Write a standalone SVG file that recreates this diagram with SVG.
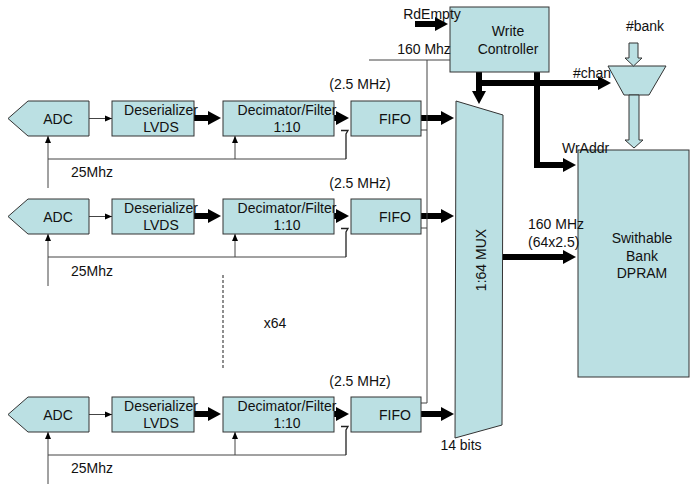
<svg xmlns="http://www.w3.org/2000/svg" width="697" height="495" viewBox="0 0 697 495">
<style>
.box{fill:#bbe0e3;stroke:#333;stroke-width:1}
.t{font-family:"Liberation Sans",Arial,sans-serif;font-size:14px;fill:#111;text-anchor:middle}
.ts{font-family:"Liberation Sans",Arial,sans-serif;font-size:14px;fill:#111}
.thin{fill:none;stroke:#444;stroke-width:1}
.hook{fill:none;stroke:#222;stroke-width:1.3}
.thinA{fill:none;stroke:#444;stroke-width:1;marker-end:url(#sa)}
.thick{fill:none;stroke:#000;stroke-width:6;marker-end:url(#ta);stroke-linejoin:miter}
</style>
<defs>
<marker id="ta" markerUnits="userSpaceOnUse" markerWidth="13" markerHeight="14" refX="5" refY="7" orient="auto"><path d="M0,0 L13,7 L0,14 z" fill="#000"/></marker>
<marker id="sa" markerUnits="userSpaceOnUse" markerWidth="8" markerHeight="8" refX="7" refY="4" orient="auto"><path d="M0,1 L7,4 L0,7 z" fill="#000"/></marker>
</defs>

<g id="connectors">
<!-- row 1 -->
<path class="thinA" d="M89,118.5 H112"/>
<path class="thick" d="M194,118 H213"/>
<path class="thick" d="M334,118 H341"/>
<path class="thick" d="M421,118 H446"/>
<path class="thinA" d="M48,188 V136"/>
<path class="thin" d="M48,159 H346"/>
<path class="thinA" d="M235,159 V136"/>
<path class="hook" d="M346,159 V134 L348,130.5 H341"/>
<path class="thin" d="M421,130 H427"/>
<!-- row 2 -->
<path class="thinA" d="M89,216.5 H112"/>
<path class="thick" d="M194,216 H213"/>
<path class="thick" d="M334,216 H341"/>
<path class="thick" d="M421,216 H446"/>
<path class="thinA" d="M48,286 V234"/>
<path class="thin" d="M48,257 H346"/>
<path class="thinA" d="M235,257 V234"/>
<path class="hook" d="M346,257 V232 L348,228.5 H341"/>
<path class="thin" d="M421,228 H427"/>
<!-- row 3 -->
<path class="thinA" d="M89,414.5 H112"/>
<path class="thick" d="M194,414 H213"/>
<path class="thick" d="M334,414 H341"/>
<path class="thick" d="M421,414 H446"/>
<path class="thinA" d="M48,484 V432"/>
<path class="thin" d="M48,455 H346"/>
<path class="thinA" d="M235,455 V432"/>
<path class="hook" d="M346,455 V430 L348,426.5 H341"/>
<path class="thin" d="M421,403 H427"/>
<!-- 160 MHz clock -->
<path class="thin" d="M369,60 H450 M427,60 V403"/>
<!-- dashed x64 -->
<path d="M223,275 V368" fill="none" stroke="#444" stroke-width="1.2" stroke-dasharray="3,2"/>
<!-- RdEmpty -->
<path class="thick" d="M415,24 H440"/>
<!-- write controller to MUX and chan mux -->
<path class="thick" d="M479,72 V96"/>
<path class="thick" d="M479,83 H603"/>
<!-- WrAddr -->
<path class="thick" d="M537,70 V165 H568"/>
<!-- MUX to DPRAM -->
<path class="thick" d="M502,257 H568"/>
</g>

<g id="row1">
<g id="adc1"><polygon class="box" points="8,118.5 28,101 89,101 89,136 28,136"/><text class="t" x="58" y="123.5">ADC</text></g>
<g id="deser1"><rect class="box" x="112" y="101" width="82" height="35"/><text class="t" x="161" y="115">Deserializer</text><text class="t" x="161" y="132">LVDS</text></g>
<g id="dec1"><rect class="box" x="223" y="101" width="111" height="35"/><text class="t" x="287" y="115">Decimator/Filter</text><text class="t" x="287" y="132">1:10</text></g>
<g id="fifo1"><rect class="box" x="351" y="101" width="70" height="35"/><text class="t" x="395" y="124">FIFO</text></g>
<text class="t" x="360" y="89">(2.5 MHz)</text>
<text class="ts" x="71" y="177">25Mhz</text>
</g>

<g id="row2">
<g id="adc2"><polygon class="box" points="8,216.5 28,199 89,199 89,234 28,234"/><text class="t" x="58" y="221.5">ADC</text></g>
<g id="deser2"><rect class="box" x="112" y="199" width="82" height="35"/><text class="t" x="161" y="213">Deserializer</text><text class="t" x="161" y="230">LVDS</text></g>
<g id="dec2"><rect class="box" x="223" y="199" width="111" height="35"/><text class="t" x="287" y="213">Decimator/Filter</text><text class="t" x="287" y="230">1:10</text></g>
<g id="fifo2"><rect class="box" x="351" y="199" width="70" height="35"/><text class="t" x="395" y="222">FIFO</text></g>
<text class="t" x="360" y="188">(2.5 MHz)</text>
<text class="ts" x="71" y="276">25Mhz</text>
</g>

<g id="row3">
<g id="adc3"><polygon class="box" points="8,414.5 28,397 89,397 89,432 28,432"/><text class="t" x="58" y="419.5">ADC</text></g>
<g id="deser3"><rect class="box" x="112" y="397" width="82" height="35"/><text class="t" x="161" y="411">Deserializer</text><text class="t" x="161" y="428">LVDS</text></g>
<g id="dec3"><rect class="box" x="223" y="397" width="111" height="35"/><text class="t" x="287" y="411">Decimator/Filter</text><text class="t" x="287" y="428">1:10</text></g>
<g id="fifo3"><rect class="box" x="351" y="397" width="70" height="35"/><text class="t" x="395" y="420">FIFO</text></g>
<text class="t" x="360" y="386">(2.5 MHz)</text>
<text class="ts" x="71" y="473">25Mhz</text>
</g>

<text class="t" x="275" y="328">x64</text>

<g id="writectrl"><rect class="box" x="450" y="7" width="99" height="65"/><text class="t" x="508" y="36">Write</text><text class="t" x="508" y="54">Controller</text></g>

<g id="mux"><polygon class="box" points="456,101 503,115 502,425 455,438"/><text class="t" transform="translate(486,260) rotate(-90)">1:64 MUX</text></g>
<text class="t" x="461" y="450">14 bits</text>

<text class="ts" x="573" y="78">#chan</text>
<g id="chanmux"><polygon class="box" points="608,66 666,66 649,95 624,95"/></g>
<text class="t" x="645" y="31">#bank</text>
<polygon class="box" points="629,43 638,43 638,58 642,58 633.5,66 625,58 629,58"/>
<polygon class="box" points="629,95 639,95 639,140 643,140 634,148 625,140 629,140"/>

<g id="dpram"><rect class="box" x="578" y="150" width="111" height="227"/><text class="t" x="642" y="243">Swithable</text><text class="t" x="642" y="261">Bank</text><text class="t" x="642" y="278">DPRAM</text></g>

<text class="t" x="424" y="54">160 Mhz</text>
<text class="t" x="432" y="19">RdEmpty</text>
<text class="ts" x="562" y="153">WrAddr</text>
<text class="ts" x="528" y="229">160 MHz</text>
<text class="ts" x="528" y="247">(64x2.5)</text>
</svg>
